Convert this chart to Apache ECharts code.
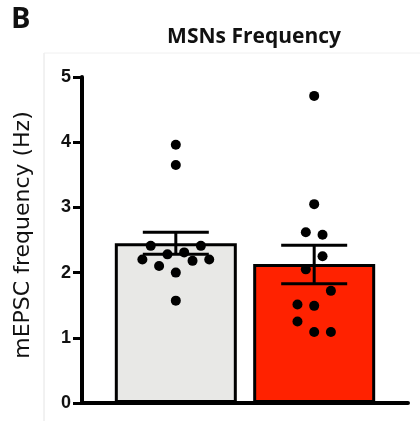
<!DOCTYPE html>
<html>
<head>
<meta charset="utf-8">
<script src="https://cdn.jsdelivr.net/npm/echarts@6/dist/echarts.min.js"></script>
<style>
  html, body { margin: 0; padding: 0; background: #fff; }
  #chart { width: 420px; height: 421px; }
</style>
</head>
<body>
<div id="chart"></div>
<script>
// groups (bar positions on the x value axis)
var groups = [0, 1];
var groupColors = ['#e8e8e6', '#ff2200'];
var means = [2.45, 2.13];
var semLow = [2.28, 1.83];
var semHigh = [2.62, 2.42];
var yTicks = [0, 1, 2, 3, 4, 5];

// individual cells, with jitter slot (multiples of one dot step)
var dots1 = [3.96, 3.65, 2.41, 2.41, 2.28, 2.31, 2.20, 2.20, 2.18, 2.10, 2.00, 1.57];
var slots1 = [0, 0, -3, 3, -1, 1, -4, 4, 2, -2, 0, 0];
var dots2 = [4.71, 3.05, 2.62, 2.58, 2.25, 2.05, 1.72, 1.51, 1.49, 1.25, 1.09, 1.09];
var slots2 = [0, 0, -1, 1, 1, -1, 2, -2, 0, -2, 0, 2];

var dotStep = 0.0604;

function toPoints(g, vals, slots) {
  return vals.map(function (v, i) { return [groups[g] + slots[i] * dotStep, v]; });
}

var chart = echarts.init(document.getElementById('chart'));
var option = {
  animation: false,
  title: {
    text: 'MSNs Frequency',
    left: 249,
    top: 22,
    textAlign: 'center',
    textStyle: { fontFamily: 'Open Sans', fontWeight: 'bold', fontSize: 21, color: '#111' }
  },
  graphic: [
    { type: 'text', left: 11, top: 5, style: { text: 'B', font: 'bold 29px "Open Sans"', fill: '#111' } },
    { type: 'line', shape: { x1: 44, y1: 53, x2: 44, y2: 421 }, style: { stroke: '#e4e4e4', lineWidth: 1 } },
    { type: 'line', shape: { x1: 44, y1: 53, x2: 420, y2: 53 }, style: { stroke: '#f0f0f0', lineWidth: 1 } }
  ],
  grid: { left: 82, right: 12, top: 77, bottom: 18, containLabel: false },
  xAxis: {
    type: 'value',
    min: -0.678,
    max: 1.678,
    axisLine: { show: true, onZero: false, lineStyle: { color: '#000', width: 4 } },
    axisTick: { show: false },
    axisLabel: { show: false },
    splitLine: { show: false }
  },
  yAxis: {
    type: 'value',
    min: yTicks[0],
    max: yTicks[yTicks.length - 1],
    interval: 1,
    name: 'mEPSC frequency (Hz)',
    nameLocation: 'middle',
    nameGap: 48,
    nameTextStyle: { fontFamily: 'DejaVu Sans', fontSize: 22, color: '#111', padding: [0, 0, 0, 10] },
    axisLine: { show: true, onZero: false, lineStyle: { color: '#000', width: 4 } },
    axisTick: { show: true, length: 9, lineStyle: { color: '#000', width: 3 } },
    axisLabel: { margin: 11, fontFamily: 'Liberation Sans', fontWeight: 'bold', fontSize: 18, color: '#111' },
    splitLine: { show: false }
  },
  series: [
    {
      type: 'bar',
      barWidth: 122,
      z: 1,
      data: groups.map(function (g, i) {
        return { value: [g, means[i]], itemStyle: { color: groupColors[i], borderColor: '#000', borderWidth: 3 } };
      })
    },
    {
      type: 'custom',
      z: 3,
      data: groups.map(function (g, i) { return [g, semLow[i], semHigh[i]]; }),
      renderItem: function (params, api) {
        var lo = api.coord([api.value(0), api.value(1)]);
        var hi = api.coord([api.value(0), api.value(2)]);
        var half = 33;
        var st = { stroke: '#000', lineWidth: 3 };
        return {
          type: 'group',
          children: [
            { type: 'line', shape: { x1: hi[0], y1: hi[1], x2: lo[0], y2: lo[1] }, style: st },
            { type: 'line', shape: { x1: hi[0] - half, y1: hi[1], x2: hi[0] + half, y2: hi[1] }, style: st },
            { type: 'line', shape: { x1: lo[0] - half, y1: lo[1], x2: lo[0] + half, y2: lo[1] }, style: st }
          ]
        };
      }
    },
    {
      type: 'scatter',
      z: 4,
      symbolSize: 10,
      itemStyle: { color: '#000', opacity: 1 },
      data: toPoints(0, dots1, slots1).concat(toPoints(1, dots2, slots2))
    }
  ]
};
chart.setOption(option);
</script>
</body>
</html>
